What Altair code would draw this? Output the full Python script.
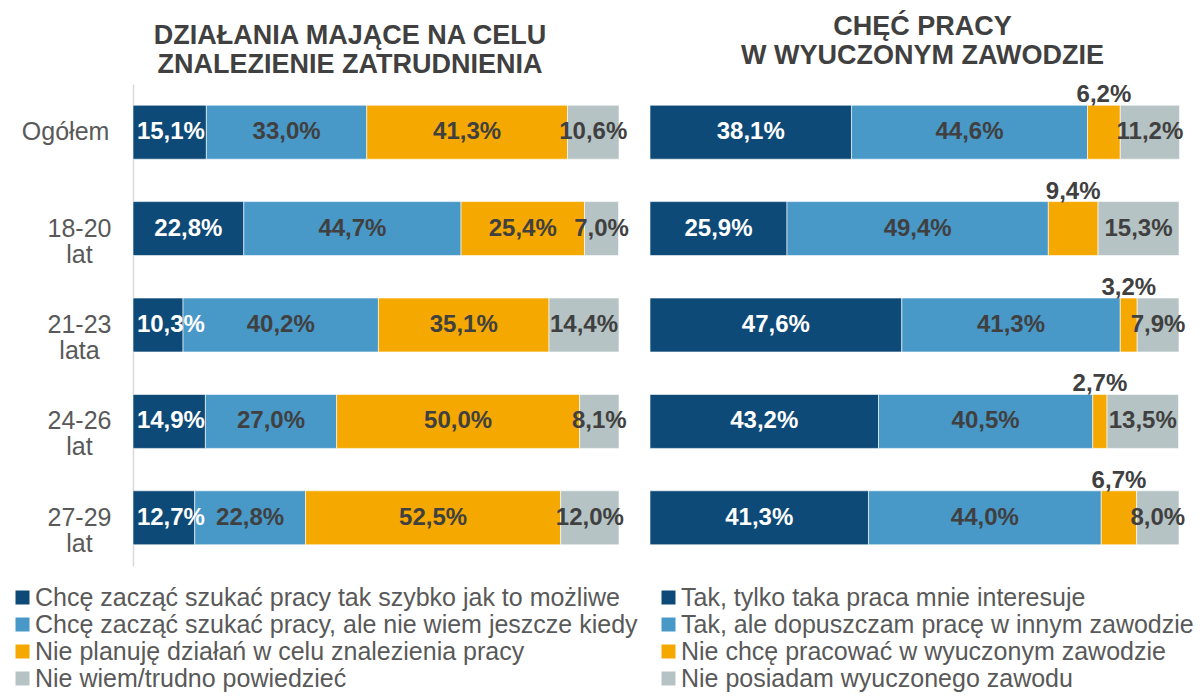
import altair as alt
import pandas as pd

# ---- data ----
groups = ["Ogółem", "18-20 lat", "21-23 lata", "24-26 lat", "27-29 lat"]

left_title = ["DZIAŁANIA MAJĄCE NA CELU", "ZNALEZIENIE ZATRUDNIENIA"]
left_series = [
    "Chcę zacząć szukać pracy tak szybko jak to możliwe",
    "Chcę zacząć szukać pracy, ale nie wiem jeszcze kiedy",
    "Nie planuję działań w celu znalezienia pracy",
    "Nie wiem/trudno powiedzieć",
]
left_s1 = [15.1, 22.8, 10.3, 14.9, 12.7]
left_s2 = [33.0, 44.7, 40.2, 27.0, 22.8]
left_s3 = [41.3, 25.4, 35.1, 50.0, 52.5]
left_s4 = [10.6, 7.0, 14.4, 8.1, 12.0]

right_title = ["CHĘĆ PRACY", "W WYUCZONYM ZAWODZIE"]
right_series = [
    "Tak, tylko taka praca mnie interesuje",
    "Tak, ale dopuszczam pracę w innym zawodzie",
    "Nie chcę pracować w wyuczonym zawodzie",
    "Nie posiadam wyuczonego zawodu",
]
right_s1 = [38.1, 25.9, 47.6, 43.2, 41.3]
right_s2 = [44.6, 49.4, 41.3, 40.5, 44.0]
right_s3 = [6.2, 9.4, 3.2, 2.7, 6.7]
right_s4 = [11.2, 15.3, 7.9, 13.5, 8.0]

colors = ["#0D4A77", "#4898C8", "#F5A900", "#B6C3C4"]

FONT = "Liberation Sans, Arial, sans-serif"
TXT = "#404040"
LAB = "#595959"


def build(series, values, above):
    rows = []
    for si, (name, vals) in enumerate(zip(series, values)):
        for g, v in zip(groups, vals):
            rows.append({
                "grupa": g,
                "seria": name,
                "ord": si,
                "wartosc": v,
                "etykieta": f"{v:.1f}".replace(".", ",") + "%",
                "poz": "above" if si in above else "in",
            })
    return pd.DataFrame(rows)


left_df = build(left_series, [left_s1, left_s2, left_s3, left_s4], [])
right_df = build(right_series, [right_s1, right_s2, right_s3, right_s4], [2])


def panel(df, series, width, title_lines, title_dx, title_offset, show_axis, legend_x, min_first):
    base = alt.Chart(df).transform_stack(
        stack="wartosc", groupby=["grupa"], as_=["x0", "x1"],
        sort=[alt.SortField("ord", order="ascending")],
    ).transform_calculate(
        mid=f"datum.ord == 0 ? max((datum.x0 + datum.x1) / 2, {min_first}) : (datum.x0 + datum.x1) / 2"
    )

    if show_axis:
        axis = alt.Axis(
            title=None, domain=True, domainColor="#D9D9D9", domainWidth=1.5,
            ticks=False, grid=False, labelFont=FONT, labelFontSize=25,
            labelColor=LAB, labelAlign="center", labelPadding=54,
            labelLineHeight=26, labelBaseline="middle",
            labelExpr="datum.label == 'Ogółem' ? 'Ogółem\u00a0\u00a0\u00a0\u00a0\u200b' : split(datum.label, ' ')",
        )
    else:
        axis = None
    y = alt.Y("grupa:N", sort=groups,
              scale=alt.Scale(paddingInner=0.44, paddingOuter=0.22), axis=axis)
    xs = alt.Scale(domain=[0, 100], nice=False, zero=True)

    bars = base.mark_bar(stroke="white", strokeWidth=0.6).encode(
        x=alt.X("x0:Q", scale=xs, axis=None),
        x2="x1:Q",
        y=y,
        color=alt.Color(
            "seria:N", sort=series,
            scale=alt.Scale(domain=series, range=colors),
            legend=alt.Legend(
                title=None, orient="none", legendX=legend_x, legendY=501,
                direction="vertical", symbolType="square", symbolSize=196,
                symbolStrokeWidth=0, labelFont=FONT, labelFontSize=25,
                labelColor=LAB, labelLimit=1000, rowPadding=1, labelOffset=0,
                padding=0, offset=0,
            ),
        ),
    )
    text_in = base.transform_filter("datum.poz == 'in'").mark_text(
        font=FONT, fontSize=24, fontWeight="bold", baseline="middle", align="center"
    ).encode(
        x=alt.X("mid:Q", scale=xs, axis=None),
        y=y,
        text="etykieta:N",
        color=alt.condition("datum.ord == 0", alt.value("white"), alt.value(TXT)),
    )
    text_above = base.transform_filter("datum.poz == 'above'").mark_text(
        font=FONT, fontSize=24, fontWeight="bold", baseline="middle", align="center", dy=-37,
        color=TXT,
    ).encode(
        x=alt.X("mid:Q", scale=xs, axis=None),
        y=y,
        text="etykieta:N",
    )
    return alt.layer(bars, text_in, text_above).properties(
        width=width, height=482,
        title=alt.TitleParams(
            text=title_lines, font=FONT, fontSize=27, fontWeight="bold",
            color=TXT, anchor="middle", dx=title_dx, offset=title_offset,
            lineHeight=29,
        ),
    )


left = panel(left_df, left_series, 486, left_title, -26, 5, True, -123, 7.8)
right = panel(right_df, right_series, 529, right_title, 8, 13, False, 6, 0)

chart = alt.hconcat(left, right, spacing=31, bounds="flush").resolve_scale(
    color="independent", x="independent", y="independent"
).resolve_legend(color="independent").properties(
    padding={"left": 2, "top": 5, "right": 0, "bottom": 0}
).configure_view(stroke=None)

chart.save("out.html", embed_options={"renderer": "svg", "actions": False})
